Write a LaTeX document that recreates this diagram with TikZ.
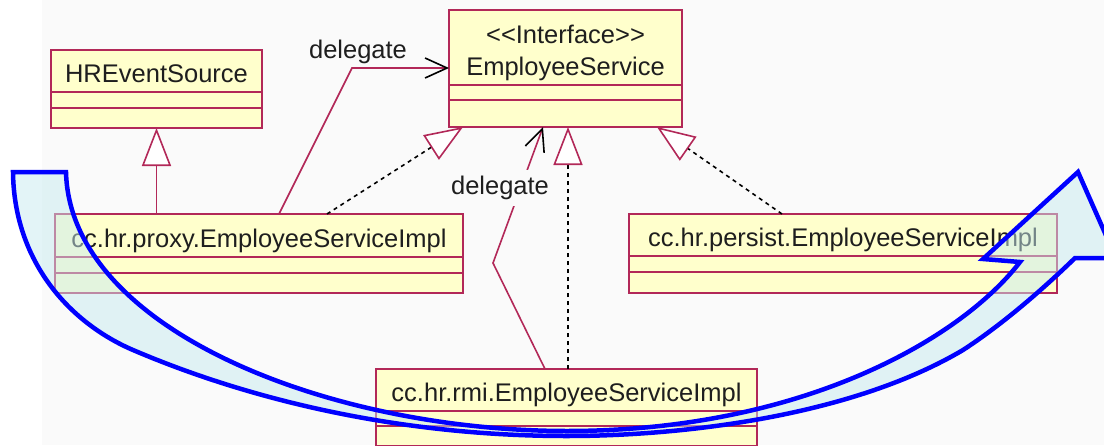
\documentclass[tikz,border=0pt]{standalone}
\usepackage{fontspec}
\setmainfont{Liberation Sans}
\usetikzlibrary{positioning,arrows.meta}
\definecolor{umlred}{RGB}{178,40,88}
\definecolor{umlfill}{RGB}{255,255,204}
\definecolor{bgcol}{RGB}{250,250,250}
\definecolor{arrowfill}{RGB}{200,235,240}
\definecolor{txt}{RGB}{30,30,30}

\begin{document}
\begin{tikzpicture}
  [x=1pt,y=-1pt,
   font=\fontsize{25.5pt}{30pt}\selectfont,
   classN/.style={rectangle,draw=umlred,fill=umlfill,line width=1.8pt,inner sep=0pt,outer sep=0pt,
                  text=txt,text height=28pt,text depth=5pt},
   partN/.style={rectangle,draw=umlred,fill=umlfill,line width=1.8pt,inner sep=0pt,outer sep=0pt},
   gen/.style={umlred,line width=1.6pt,-{Triangle[length=38pt,width=29pt,fill=white]}},
   real/.style={black,line width=1.6pt,dash pattern=on 4pt off 4pt,
                -{Triangle[length=38pt,width=29pt,color=umlred,fill=white]}},
   deleg/.style={umlred,line width=1.6pt,-{Straight Barb[length=22pt,width=20pt,color=black]}},
   lbl/.style={text=txt,inner sep=6pt},
   bigarrow/.style={draw=blue,line width=4.5pt,fill=arrowfill,fill opacity=0.5}]

  % background
  \fill[white] (0,0) rectangle (42,445);
  \fill[bgcol] (42,0) rectangle (1104,445);
  \useasboundingbox (0,0) rectangle (1104,445);

  % classes
  \node[classN,minimum width=211pt,minimum height=42pt] (hr1) at (156.5,71) {HREventSource};
  \node[partN,minimum width=211pt,minimum height=16pt,below=0pt of hr1] (hr2) {};
  \node[partN,minimum width=211pt,minimum height=20pt,below=0pt of hr2] (hr3) {};

  \node[classN,minimum width=233pt,minimum height=75pt,text height=60pt] (es1) at (565.5,47.5) {EmployeeService};
  \node[partN,minimum width=233pt,minimum height=15pt,below=0pt of es1] (es2) {};
  \node[partN,minimum width=233pt,minimum height=27pt,below=0pt of es2] (es3) {};
  \node[text=txt,anchor=base] (es0) at ([yshift=-33pt]es1.north) {{<}{<}Interface{>}{>}};

  \node[classN,minimum width=408pt,minimum height=43pt] (px1) at (259,235.5) {cc.hr.proxy.EmployeeServiceImpl};
  \node[partN,minimum width=408pt,minimum height=16pt,below=0pt of px1] (px2) {};
  \node[partN,minimum width=408pt,minimum height=20pt,below=0pt of px2] (px3) {};

  \node[classN,minimum width=428pt,minimum height=42pt] (ps1) at (843,235) {cc.hr.persist.EmployeeServiceImpl};
  \node[partN,minimum width=428pt,minimum height=16pt,below=0pt of ps1] (ps2) {};
  \node[partN,minimum width=428pt,minimum height=21pt,below=0pt of ps2] (ps3) {};

  \node[classN,minimum width=381pt,minimum height=42pt] (rm1) at (566.5,390) {cc.hr.rmi.EmployeeServiceImpl};
  \node[partN,minimum width=381pt,minimum height=15pt,below=0pt of rm1] (rm2) {};
  \node[partN,minimum width=381pt,minimum height=20pt,below=0pt of rm2] (rm3) {};

  % connectors
  \coordinate (d1) at (352,68);
  \coordinate (d2) at (493,263);
  \draw[gen] (hr3.south |- px1.north) -- (hr3.south);
  \draw[real] ([xshift=272pt]px1.north west) -- ([xshift=14pt]es3.south west);
  \draw[real] ([xshift=192pt]rm1.north west) -- ([xshift=119pt]es3.south west);
  \draw[real] ([xshift=153pt]ps1.north west) -- ([xshift=-25pt]es3.south east);
  \draw[deleg] ([xshift=224pt]px1.north west) -- (d1) -- (d1 -| es1.west);
  \draw[deleg] ([xshift=169pt]rm1.north west) -- (d2) -- ([xshift=94pt]es3.south west);

  \node[lbl] (dl1) at (358,52) {delegate};
  \node[lbl,fill=bgcol] (dl2) at (500,188) {delegate};

  % big curved arrow
  \filldraw[bigarrow] (13,172) -- (66,172)
    .. controls (70,330) and (330,431) .. (567,431)
    .. controls (800,431) and (960,340) .. (1020,262)
    -- (983,259) -- (1078,172) -- (1116,258) -- (1075,258)
    .. controls (1040,292) and (1000,326) .. (963,350)
    .. controls (850,417) and (680,436) .. (567,436)
    .. controls (400,436) and (250,400) .. (133,350)
    .. controls (70,323) and (14,262) .. (13,172)
    -- cycle;
\end{tikzpicture}
\end{document}
